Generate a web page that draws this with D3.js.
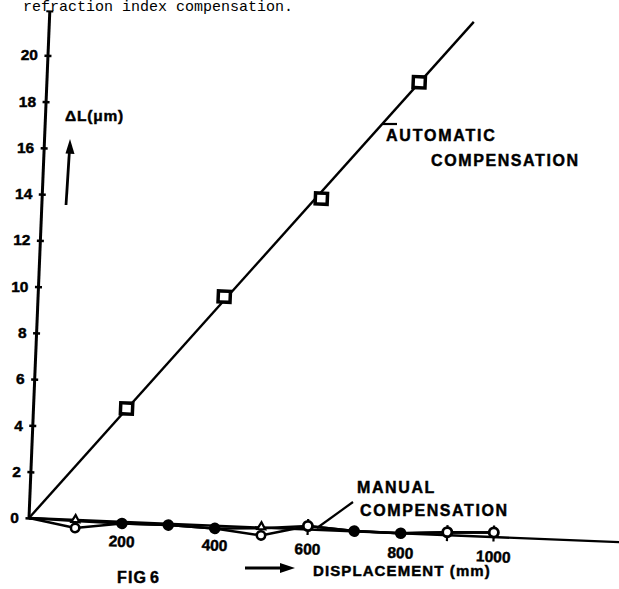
<!DOCTYPE html>
<html>
<head>
<meta charset="utf-8">
<script src="https://cdn.jsdelivr.net/npm/d3@7"></script>
<style>
  html, body { margin: 0; padding: 0; background: #fff; }
  svg { display: block; }
  .lbl { font-family: "Liberation Sans", Arial, sans-serif; font-weight: bold; fill: #000; stroke: #000; stroke-width: 0.45px; }
</style>
</head>
<body>
<svg id="chart" width="619" height="589"></svg>
<script>
// ---- data ----
const yTicks = [0, 2, 4, 6, 8, 10, 12, 14, 16, 18, 20];
const xTicks = [200, 400, 600, 800, 1000];

// automatic compensation (squares) and its fitted line
const autoX = [200, 400, 600, 800];
const autoY = [4.9, 9.9, 14.3, 19.5];
const autoLineX = [0, 912];
const autoLineY = [0, 22.2];

// manual compensation (two runs)
const manualX = [0, 100, 200, 300, 400, 500, 600, 700, 800, 900, 1000];
const manualRun1 = [0, -0.05, -0.07, -0.06, -0.12, -0.03, 0.15, 0.01, 0, 0.13, 0.2];
const manualRun2 = [0, -0.35, -0.07, -0.06, -0.12, -0.34, 0.15, 0.01, 0, 0.13, 0.2];
const run1DotX = [200, 300, 400, 700, 800];
const run1TriX = [100, 500];
const run1RingX = [600, 900, 1000];
const run2RingX = [100, 500];

// ---- layout ----
const svg = d3.select("#chart");
const ox = 29, oy = 518, theta = 2.35;
const x = d3.scaleLinear().domain([0, 1000]).range([0, 465]);
const y = d3.scaleLinear().domain([0, 20]).range([0, -463]);

// top caption
svg.append("text")
  .attr("x", 293).attr("y", 11).attr("text-anchor", "end")
  .style("font-family", "'Liberation Mono', 'DejaVu Sans Mono', monospace")
  .style("font-size", "15px")
  .text("refraction index compensation.");

const g = svg.append("g").attr("transform", `translate(${ox},${oy}) rotate(${theta})`);

// y axis
const yAxis = d3.axisLeft(y).tickValues(yTicks).tickSize(0).tickPadding(10);
const ya = g.append("g").call(yAxis);
ya.select(".domain").remove();
ya.selectAll("text").attr("class", "lbl").style("font-size", "15.5px")
  .attr("transform", function() {
    const t = d3.select(this);
    return `rotate(${-theta},${t.attr("x")},0)`;
  });
ya.selectAll(".tick").append("line")
  .attr("x1", -3.5).attr("x2", 3.5).attr("stroke", "#000").attr("stroke-width", 2.5);
g.append("line").attr("x1", 0).attr("y1", 0).attr("x2", 0).attr("y2", y(21.9))
  .attr("stroke", "#000").attr("stroke-width", 3);
g.append("line").attr("x1", -3.5).attr("x2", 3.5).attr("y1", y(21.9)).attr("y2", y(21.9))
  .attr("stroke", "#000").attr("stroke-width", 2);

// x axis
const xAxis = d3.axisBottom(x).tickValues(xTicks).tickSize(0).tickPadding(14)
  .tickFormat(d3.format("d"));
const xa = g.append("g").call(xAxis);
xa.select(".domain").remove();
xa.selectAll("text").attr("class", "lbl").style("font-size", "15.5px");
g.append("line").attr("x1", 0).attr("y1", 0).attr("x2", x(1280)).attr("y2", 0)
  .attr("stroke", "#000").attr("stroke-width", 2.3);

// automatic compensation line + squares
g.append("line")
  .attr("x1", x(autoLineX[0])).attr("y1", y(autoLineY[0]))
  .attr("x2", x(autoLineX[1])).attr("y2", y(autoLineY[1]))
  .attr("stroke", "#000").attr("stroke-width", 2.4);
g.selectAll(".sq").data(autoX.map((d, i) => [d, autoY[i]])).enter().append("rect")
  .attr("x", d => x(d[0]) - 6).attr("y", d => y(d[1]) - 5.5)
  .attr("width", 12).attr("height", 11)
  .attr("fill", "#fff").attr("stroke", "#000").attr("stroke-width", 3.5);

// manual compensation lines
const line = d3.line().x(d => x(d[0])).y(d => y(d[1]));
[manualRun2, manualRun1].forEach(run => {
  g.append("path").datum(manualX.map((d, i) => [d, run[i]]))
    .attr("d", line).attr("fill", "none").attr("stroke", "#000").attr("stroke-width", 2.5);
});
const valAt = (run, xv) => run[manualX.indexOf(xv)];

// triangles on run1
g.selectAll(".tri").data(run1TriX).enter().append("path")
  .attr("d", d => {
    const cx = x(d), cy = y(valAt(manualRun1, d));
    return `M${cx},${cy - 6} L${cx + 4},${cy + 1} L${cx - 4},${cy + 1} Z`;
  })
  .attr("fill", "#fff").attr("stroke", "#000").attr("stroke-width", 2.2);
// rings on run2
g.selectAll(".ring2").data(run2RingX).enter().append("circle")
  .attr("cx", d => x(d)).attr("cy", d => y(valAt(manualRun2, d))).attr("r", 4.2)
  .attr("fill", "#fff").attr("stroke", "#000").attr("stroke-width", 2.6);
// dots on run1
g.selectAll(".dot").data(run1DotX).enter().append("circle")
  .attr("cx", d => x(d)).attr("cy", d => y(valAt(manualRun1, d))).attr("r", 5.8)
  .attr("fill", "#000");
// rings on run1 with small tick
g.selectAll(".ring1t").data(run1RingX).enter().append("line")
  .attr("x1", d => x(d)).attr("x2", d => x(d))
  .attr("y1", d => y(valAt(manualRun1, d)) - 7).attr("y2", d => y(valAt(manualRun1, d)) + 9)
  .attr("stroke", "#000").attr("stroke-width", 2.2);
g.selectAll(".ring1").data(run1RingX).enter().append("circle")
  .attr("cx", d => x(d)).attr("cy", d => y(valAt(manualRun1, d))).attr("r", 4.6)
  .attr("fill", "#fff").attr("stroke", "#000").attr("stroke-width", 2.8);

// ---- annotations ----
function txt(tx, ty, s, size, ls) {
  svg.append("text").attr("class", "lbl").attr("x", tx).attr("y", ty)
    .style("font-size", size + "px").style("letter-spacing", (ls || 0) + "px").text(s);
}
txt(65, 121, "ΔL(μm)", 15.5, 0.8);
txt(386, 141, "AUTOMATIC", 16, 1.8);
txt(431, 166, "COMPENSATION", 16, 1.6);
txt(357, 493, "MANUAL", 16, 1.6);
txt(360, 516, "COMPENSATION", 16, 1.6);
txt(117, 583, "FIG", 16, 1.2);
txt(150, 583, "6", 16, 0);
txt(313, 576, "DISPLACEMENT (mm)", 15, 1.1);

// leader lines
svg.append("line").attr("x1", 383).attr("y1", 124).attr("x2", 397).attr("y2", 124)
  .attr("stroke", "#000").attr("stroke-width", 2.2);
svg.append("line").attr("x1", 317).attr("y1", 528).attr("x2", 353).attr("y2", 502)
  .attr("stroke", "#000").attr("stroke-width", 2.2);

// arrows
svg.append("line").attr("x1", 66).attr("y1", 205).attr("x2", 69.5).attr("y2", 150)
  .attr("stroke", "#000").attr("stroke-width", 2.8);
svg.append("path").attr("d", "M70,139 L74.5,154 L65.5,153.5 Z").attr("fill", "#000");
svg.append("line").attr("x1", 245).attr("y1", 568).attr("x2", 282).attr("y2", 568)
  .attr("stroke", "#000").attr("stroke-width", 3.2);
svg.append("path").attr("d", "M295,568 L280,563 L280,573 Z").attr("fill", "#000");
</script>
</body>
</html>
